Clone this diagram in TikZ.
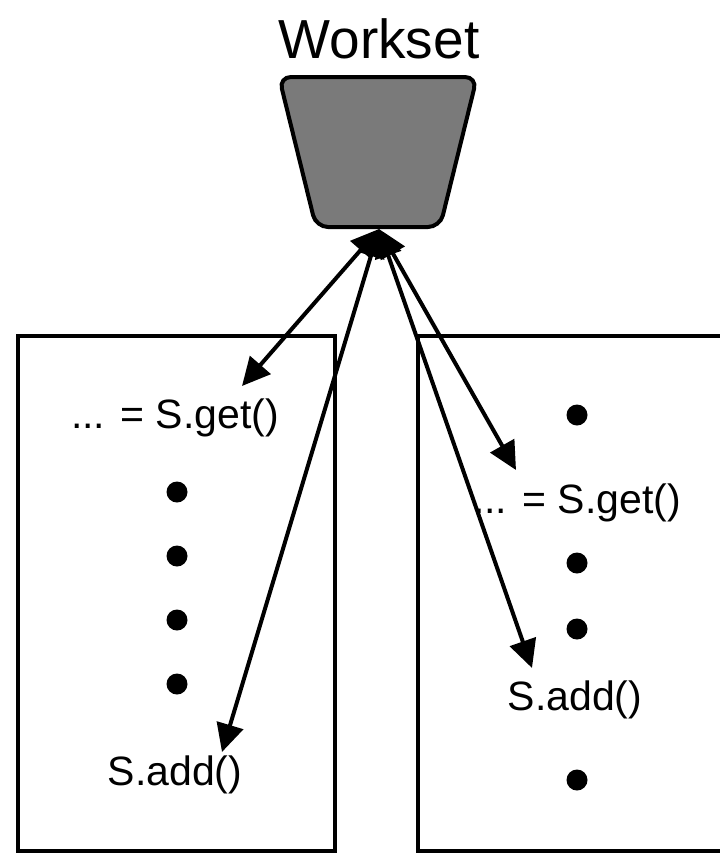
\documentclass[tikz,border=0pt]{standalone}
\usepackage{fontspec}
\setmainfont{Liberation Sans}
\usetikzlibrary{arrows.meta}
\definecolor{wsgray}{RGB}{122,122,122}
\tikzset{
  txt/.style={inner sep=0pt,font=\fontsize{41}{49}\selectfont},
  dot/.style={circle,fill=black,inner sep=0pt,minimum size=21pt},
  box/.style={draw,line width=4.5pt}
}
\begin{document}
\begin{tikzpicture}[x=1pt,y=-1pt,>={Triangle[length=28pt,width=27pt]},line width=4pt]
  \useasboundingbox (0,0) rectangle (720,860);
  \clip (0,0) rectangle (720,860);
  % the shared set
  \draw[fill=wsgray,rounded corners=12pt] (279,77) -- (477,77) -- (440,227) -- (316,227) -- cycle;
  \coordinate (ws) at (379,229);
  \node[anchor=base,inner sep=0pt,font=\fontsize{55}{66}\selectfont] (wslabel) at (379,58) {Workset};
  % the two workers
  \draw[box] (18,336) rectangle (335,851);
  \draw[box] (418,336) rectangle (740,851);
  \node[txt] (lget) at (175,418) {... = S.get()};
  \node[dot] (l1) at (177,492) {};
  \node[dot] (l2) at (177,556) {};
  \node[dot] (l3) at (177,620) {};
  \node[dot] (l4) at (177,684) {};
  \node[txt] (ladd) at (175,775) {S.add()};
  \node[dot] (r1) at (577,415) {};
  \node[txt] (rget) at (577,503) {... = S.get()};
  \node[dot] (r2) at (577,563) {};
  \node[dot] (r3) at (577,629) {};
  \node[txt] (radd) at (575,700) {S.add()};
  \node[dot] (r4) at (577,780) {};
  \coordinate (lgetin) at (242,386);
  \coordinate (laddin) at (222,752);
  \coordinate (rgetin) at (516,470);
  \coordinate (raddin) at (532,668);
  \draw[<->] (ws) -- (lgetin);
  \draw[<->] (ws) -- (laddin);
  \draw[<->] (ws) -- (rgetin);
  \draw[<->] (ws) -- (raddin);
\end{tikzpicture}
\end{document}
